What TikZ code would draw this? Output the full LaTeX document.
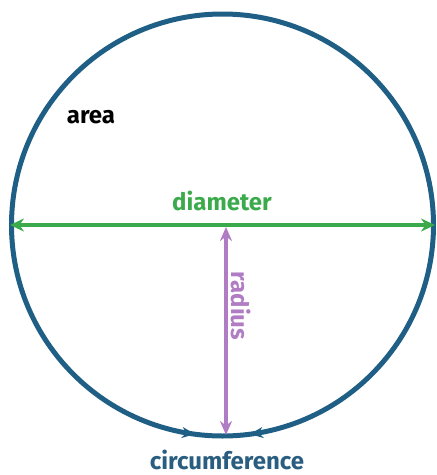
\documentclass[tikz,border=0pt]{standalone}
\usepackage{fontspec}
\setmainfont{Fira Sans}
\usetikzlibrary{arrows.meta}
\definecolor{circblue}{HTML}{1F5F85}
\definecolor{diagreen}{HTML}{3BAA4B}
\definecolor{radpurple}{HTML}{B07CC4}
\definecolor{circtext}{HTML}{2A5E80}
\begin{document}
\begin{tikzpicture}[x=1pt,y=-1pt,
  lbl/.style={font=\fontsize{24}{28}\selectfont\bfseries, inner sep=0pt},
]
\useasboundingbox (0,0) rectangle (437,475);
\node[circle, draw=circblue, line width=5pt, minimum size=422pt, inner sep=0pt] (c) at (222.5,225) {};
\draw[diagreen, line width=3.5pt, {Stealth[length=14pt,width=13pt]}-{Stealth[length=14pt,width=13pt]}, shorten <=1pt, shorten >=1pt] (c.west) -- (c.east);
\coordinate (rt) at (226,227);
\coordinate (rb) at (226,435);
\draw[radpurple, line width=3.5pt, {Stealth[length=14pt,width=12pt]}-{Stealth[length=14pt,width=12pt]}] (rt) -- (rb);
\node[lbl, text=diagreen] (dia) at (222,201) {diameter};
\node[lbl, text=black] (area) at (91,117) {area};
\node[lbl, text=radpurple, rotate=-90] (rad) at (241,306) {radius};
\node[lbl, text=circtext] (circ) at (227,460) {circumference};
\draw[circblue, line width=2.5pt, -{Stealth[length=13pt,width=11pt]}] (c.center) ++(112:211) arc[start angle=112, end angle=97.5, radius=211];
\draw[circblue, line width=2.5pt, -{Stealth[length=13pt,width=11pt]}] (c.center) ++(68:211) arc[start angle=68, end angle=82.5, radius=211];
\end{tikzpicture}
\end{document}
